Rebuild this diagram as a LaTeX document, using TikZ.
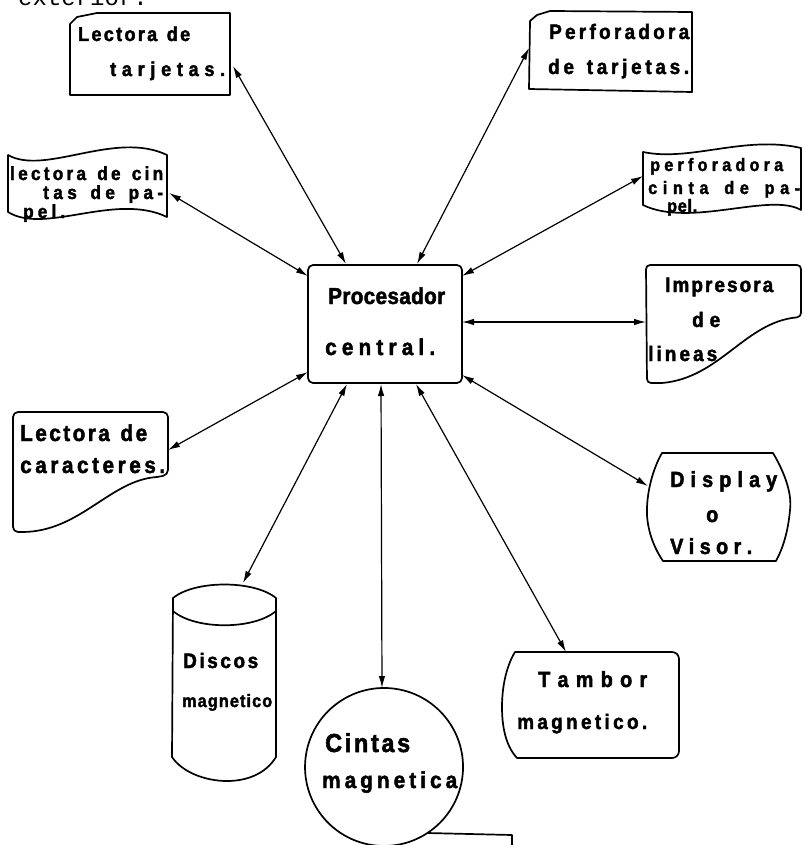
\documentclass[tikz,border=0pt]{standalone}
\usepackage{fontspec}
\newfontfamily\lett{Liberation Sans}[FakeStretch=0.9, FakeBold=2]
\newfontfamily\tw{Liberation Mono}
\usetikzlibrary{arrows.meta}
\ExplSyntaxOn
\NewDocumentCommand\spread{mm}{\makebox[#1]{\str_map_inline:nn{#2}{##1\hfill}\unskip}}
\ExplSyntaxOff
\begin{document}
\begin{tikzpicture}[x=1pt,y=-1pt,
  shp/.style={line width=1.7pt, line join=round},
  lab/.style={inner sep=0pt, anchor=base west, font=\lett\bfseries\fontsize{#1}{#1}\selectfont},
  biarrow/.style={line width=1.2pt, {Latex[length=12pt,width=6.5pt]}-{Latex[length=12pt,width=6.5pt]}}]
\useasboundingbox (0,0) rectangle (803,845);
\fill[white] (0,0) rectangle (803,845);

% cut-off text at the top
\node[inner sep=0pt, anchor=base west, font=\tw\fontsize{24}{24}\selectfont] (ext) at (18,6) {exterior.};

% ---------- shapes ----------
% Procesador central
\node[shp, draw, rounded corners=5pt, minimum width=154pt, minimum height=118pt, inner sep=0pt] (proc) at (385,324) {};
% Lectora de tarjetas
\draw[shp] (70,24) -- (77,17) -- (97,13) -- (230,13) -- (230,95) -- (70,95) -- cycle;
% Perforadora de tarjetas
\draw[shp] (529,89) -- (530,21) -- (537,15) -- (550,11) -- (692,12) -- (692,92) -- cycle;
% lectora de cintas de papel
\draw[shp] (8,155) .. controls (45,176) and (115,130) .. (167,155) -- (167,217)
  .. controls (115,192) and (45,235) .. (8,212) -- cycle;
% perforadora cinta de papel
\draw[shp] (643,152) .. controls (690,162) and (745,135) .. (801,148) -- (801,210)
  .. controls (770,192) and (690,228) .. (643,205) -- cycle;
% Impresora de lineas
\draw[shp] (646,269) [rounded corners=4pt] -- (646,265) -- (801,265) -- (801,317) [sharp corners]
  .. controls (745,322) and (720,378) .. (662,383) [rounded corners=4pt] -- (647,383) [sharp corners] -- (646,269);
% Lectora de caracteres
\draw[shp] (13,420) [rounded corners=5pt] -- (13,412) -- (168,412) -- (168,475) [sharp corners]
  -- (157,477) .. controls (110,480) and (80,532) .. (22,532) [rounded corners=5pt] -- (13,532) [sharp corners] -- (13,420);
% Display o Visor
\draw[shp] (662,453) -- (773,453) .. controls (786,475) and (792,495) .. (790,510)
  .. controls (788,532) and (783,548) .. (776,561) -- (663,561)
  .. controls (652,545) and (646,525) .. (647,507) .. controls (648,485) and (655,465) .. (662,453) -- cycle;
% Discos magnetico
\draw[shp] (173,598) .. controls (195,580) and (254,580) .. (276,598) -- (276,757)
  .. controls (265,775) and (245,781) .. (227,781) .. controls (205,781) and (182,772) .. (172,757) -- cycle;
\draw[shp] (173,611) .. controls (195,630) and (254,630) .. (276,611);
% Cintas magnetica
\draw[shp] (512,846) -- (512,835) -- (427.4,833) arc[start angle=56.7, end angle=-303.3, radius=79];
% Tambor magnetico
\draw[shp] (515,652) [rounded corners=7pt] -- (679,652) -- (679,758) [sharp corners] -- (517,758)
  .. controls (505,745) and (502,725) .. (502,707) .. controls (502,685) and (507,665) .. (515,652) -- cycle;

% ---------- texts ----------
\node[lab=20] (t1a) at (78,41) {\spread{112pt}{Lectora de}};
\node[lab=20] (t1b) at (110,76) {\spread{115pt}{tarjetas.}};
\node[lab=21] (t2a) at (549,39) {\spread{140pt}{Perforadora}};
\node[lab=21] (t2b) at (548,74) {\spread{141pt}{de tarjetas.}};
\node[lab=19] (t3a) at (10,180) {\spread{153pt}{lectora de cin}};
\node[lab=19] (t3b) at (43,199) {\spread{120pt}{tas de pa-}};
\node[lab=19] (t3c) at (23,218) {\spread{42pt}{pel.}};
\node[lab=18] (t4a) at (650,171) {\spread{133pt}{perforadora}};
\node[lab=18] (t4b) at (648,194) {\spread{152pt}{cinta de pa-}};
\node[lab=18] (t4c) at (667,212) {\spread{30pt}{pel.}};
\node[lab=21] (t5a) at (665,292) {\spread{108pt}{Impresora}};
\node[lab=21] (t5b) at (692,327) {\spread{28pt}{de}};
\node[lab=21] (t5c) at (648,361) {\spread{69pt}{lineas}};
\node[lab=23] (p1) at (328,304) {\spread{117pt}{Procesador}};
\node[lab=23] (p2) at (325,355) {\spread{110pt}{central.}};
\node[lab=23] (t7a) at (20,441) {\spread{127pt}{Lectora de}};
\node[lab=23] (t7b) at (20,473) {\spread{145pt}{caracteres.}};
\node[lab=22] (t8a) at (670,487) {\spread{107pt}{Display}};
\node[lab=22] (t8b) at (706,522) {o};
\node[lab=22] (t8c) at (670,554) {\spread{82pt}{Visor.}};
\node[lab=21] (t9a) at (183,668) {\spread{75pt}{Discos}};
\node[lab=18] (t9b) at (182,707) {\spread{90pt}{magnetico}};
\node[lab=26] (t10a) at (325,752) {\spread{85pt}{Cintas}};
\node[lab=23] (t10b) at (322,788) {\spread{135pt}{magnetica}};
\node[lab=22] (t11a) at (538,687) {\spread{109pt}{Tambor}};
\node[lab=21] (t11b) at (517,729) {\spread{130pt}{magnetico.}};

% ---------- connector end points ----------
\coordinate (p-lt) at (346,264);  \coordinate (lt) at (233,66);
\coordinate (p-pt) at (417,264);  \coordinate (pt) at (529,48);
\coordinate (p-lc) at (308,276);  \coordinate (lc) at (169,193);
\coordinate (p-pc) at (462,276);  \coordinate (pc) at (643,176);
\coordinate (p-im) at (462,322);  \coordinate (im) at (646,322);
\coordinate (p-lr) at (308,372);  \coordinate (lr) at (168,450);
\coordinate (p-di) at (462,375);  \coordinate (di) at (648,486);
\coordinate (p-dm) at (347,384);  \coordinate (dm) at (243,583);
\coordinate (p-cm) at (381,384);  \coordinate (cm) at (382,688);
\coordinate (p-tm) at (416,384);  \coordinate (tm) at (566,652);

\draw[biarrow] (p-lt) -- (lt);
\draw[biarrow] (p-pt) -- (pt);
\draw[biarrow] (p-lc) -- (lc);
\draw[biarrow] (p-pc) -- (pc);
\draw[biarrow] (p-im) -- (im);
\draw[biarrow] (p-lr) -- (lr);
\draw[biarrow] (p-di) -- (di);
\draw[biarrow] (p-dm) -- (dm);
\draw[biarrow] (p-cm) -- (cm);
\draw[biarrow] (p-tm) -- (tm);
\end{tikzpicture}
\end{document}
